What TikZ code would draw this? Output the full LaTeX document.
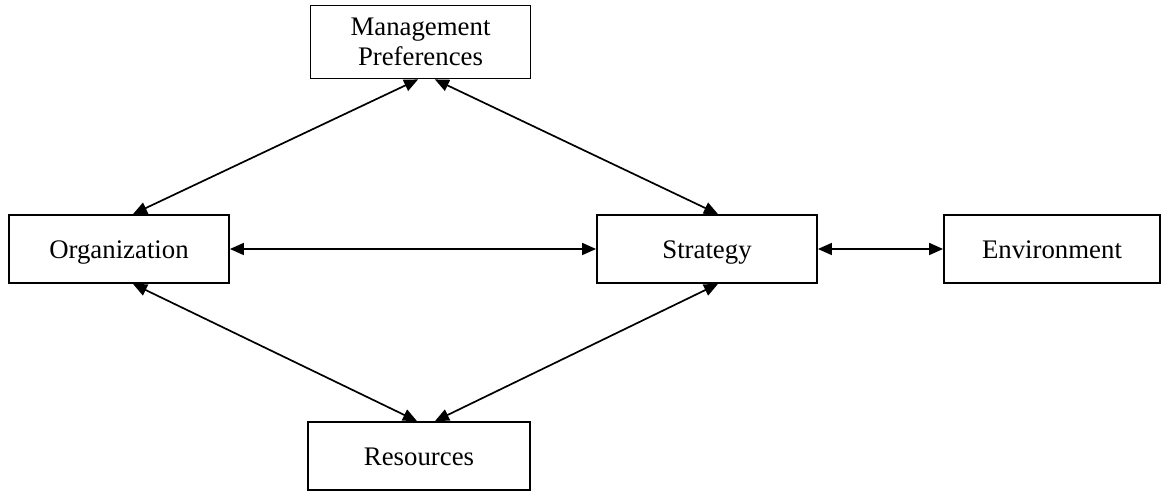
\documentclass[tikz,border=0pt]{standalone}
\usepackage{fontspec}
\setmainfont{Liberation Serif}
\usepackage{tikz}
\usetikzlibrary{arrows.meta,positioning}
\tikzset{box node/.style={rectangle,draw,line width=0.9pt,minimum width=110pt,minimum height=34pt,inner sep=2pt,align=center,font=\fontsize{13.4}{15}\selectfont},
         one line/.style={text height=11pt,text depth=1.5pt},
         link/.style={<->,line width=0.85pt}
}

\begin{document}
\begin{tikzpicture}[>={Triangle[length=7pt,width=6pt]},
x=0.5pt, y=-0.5pt]
\useasboundingbox (0,0) rectangle (1163,491);
\node [box node, minimum height=36.5pt] (mp) at (420.5,42) {Management\\Preferences};
\node [box node, one line] (org) at (119,249) {Organization};
\node [box node, one line] (str) at (707,249) {Strategy};
\node [box node, one line, minimum width=108pt] (env) at (1052,249) {Environment};
\node [box node, one line, minimum width=111pt] (res) at (419,456) {Resources};
\draw[link] ([xshift=7pt]org.north) -- ([xshift=-1.2pt]mp.south);
\draw[link] ([xshift=7.2pt]mp.south) -- ([xshift=5.5pt]str.north);
\draw[link] ([xshift=7pt]org.south) -- ([xshift=-1pt]res.north);
\draw[link] ([xshift=8pt]res.north) -- ([xshift=5.5pt]str.south);
\draw[link] (org) -- (str);
\draw[link] (str) -- (env);
\end{tikzpicture}
\end{document}
